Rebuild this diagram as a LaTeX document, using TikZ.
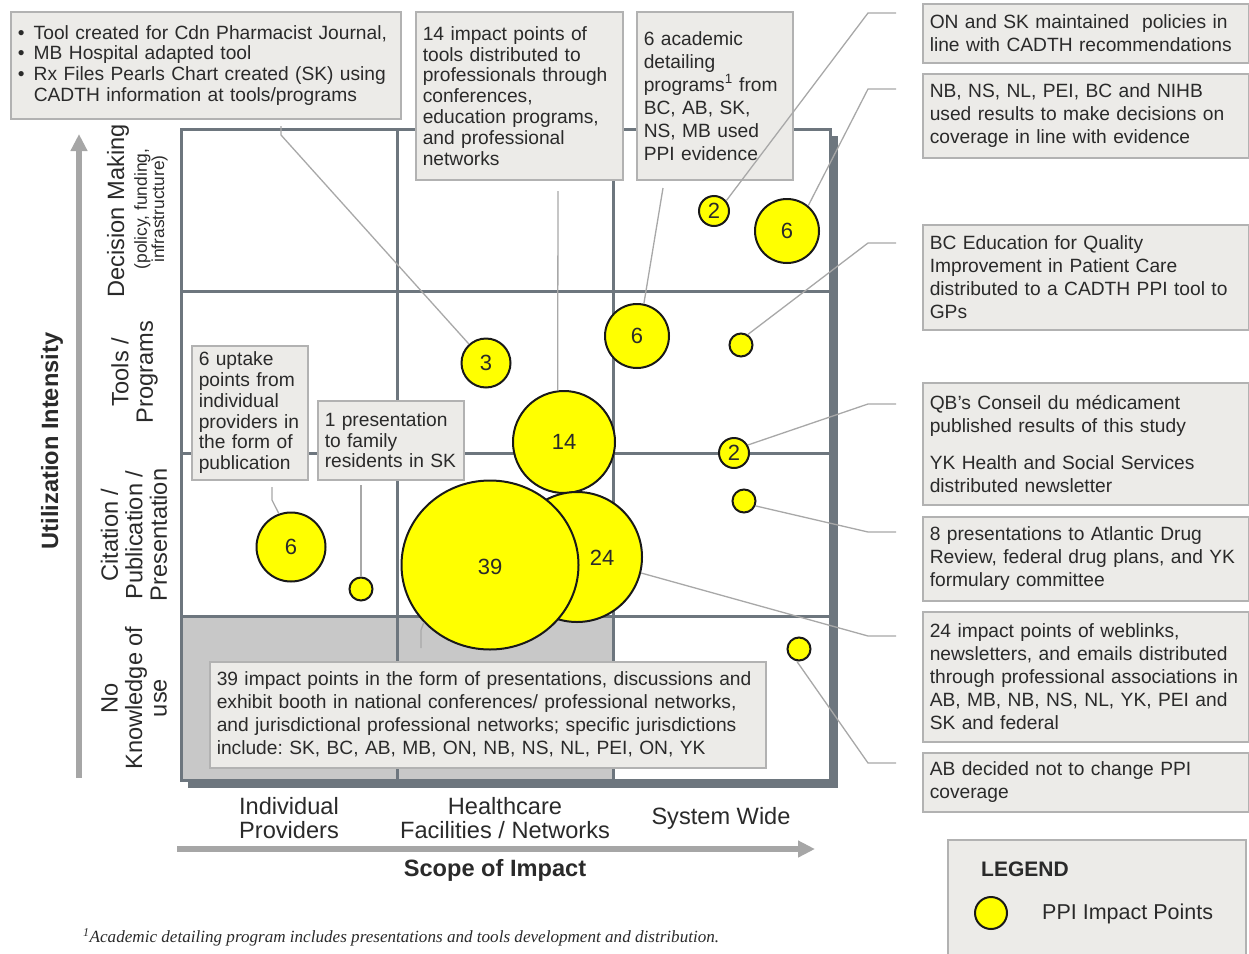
\documentclass[tikz,border=0pt]{standalone}
\usepackage{fontspec}
\setmainfont{Liberation Sans}
\newfontfamily\myserif{Liberation Serif}
\usetikzlibrary{arrows.meta,shapes.geometric}
\definecolor{gridc}{HTML}{6D767E}
\definecolor{boxfill}{HTML}{ECEBE8}
\definecolor{boxline}{HTML}{B2B2B2}
\definecolor{shadec}{HTML}{C8C8C8}
\definecolor{connc}{HTML}{A8A8A8}
\definecolor{axisc}{HTML}{A6A6A6}
\definecolor{txtc}{HTML}{2A2A2A}
\definecolor{bubc}{HTML}{FFFF00}
\newcommand{\mybodyA}{\fontsize{19.2}{20.8}\selectfont}
\newcommand{\mybodyB}{\fontsize{19.2}{23}\selectfont}
\newcommand{\myaxfont}{\fontsize{23.6}{24.5}\selectfont}
\newcommand{\myaxbf}{\bfseries\fontsize{23.6}{25}\selectfont}
\newcommand{\mysubfont}{\fontsize{17.4}{15}\selectfont}
\newcommand{\mynumfont}{\fontsize{22}{24}\selectfont}
\newcommand{\mylegfont}{\fontsize{21.5}{24}\selectfont}
\newcommand{\mylegbf}{\bfseries\fontsize{21}{24}\selectfont}
\frenchspacing
\begin{document}
\begin{tikzpicture}[x=1pt,y=-1pt,
  every node/.style={inner sep=0pt,text=txtc},
  box/.style={draw=boxline,line width=1.5pt,fill=boxfill,anchor=north west,align=left,inner xsep=7pt,inner ysep=0pt},
  bubble/.style={circle,draw=black!90,line width=2pt,fill=bubc,inner sep=0pt,font=\mynumfont},
  conn/.style={draw=connc,line width=1.3pt},
  axarrow/.style={draw=axisc,line width=5.5pt,-{Triangle[length=17pt,width=16pt]}},
  gridline/.style={draw=gridc,line width=3pt}]
\useasboundingbox (0,0) rectangle (1249,953);
% grid
\fill[gridc] (188,136) rectangle (838,788);
\fill[white] (181,129) rectangle (830,780);
\fill[shadec] (181,616) rectangle (613,780);
\draw[gridline] (397,129) -- (397,780);
\draw[gridline] (613,129) -- (613,780);
\draw[gridline] (181,291) -- (830,291);
\draw[gridline] (181,453) -- (830,453);
\draw[gridline] (181,616) -- (830,616);
\draw[gridline] (181,129) rectangle (830,780);
% axes
\coordinate (ya0) at (79,778);
\coordinate (ya1) at (79,134);
\coordinate (xa0) at (177,849);
\coordinate (xa1) at (815,849);
\draw[axarrow] (ya0) -- (ya1);
\draw[axarrow] (xa0) -- (xa1);
% bubbles
\node[bubble,minimum size=30] (b2a) at (714,211) {2};
\node[bubble,minimum size=64] (b6a) at (787,231) {6};
\node[bubble,minimum size=64] (b6m) at (637,336) {6};
\node[bubble,minimum size=23] (bd1) at (741,345) {};
\node[bubble,minimum size=49] (b3) at (486,363) {3};
\node[bubble,minimum size=102] (b14) at (564,442) {14};
\node[bubble,minimum size=30] (b2b) at (734,453) {2};
\node[bubble,minimum size=23] (bd2) at (744,501) {};
\node[bubble,minimum size=69] (b6l) at (291,547) {6};
\node[bubble,minimum size=23] (bd4) at (361,589) {};
\node[bubble,minimum size=130] (b24) at (577,557) {};
\node[bubble,ellipse,minimum width=177,minimum height=169] (b39) at (490,565) {};
\node[font=\mynumfont] (t39) at (490,567) {39};
\node[font=\mynumfont] (t24) at (602,558) {24};
\node[bubble,minimum size=23] (bd3) at (799,649) {};
% boxes
\node[box,font=\mybodyA,text width=376,minimum height=107] (bxA) at (10,11)
 {\makebox[16pt][l]{•}Tool created for Cdn Pharmacist Journal,\\
  \makebox[16pt][l]{•}MB Hospital adapted tool\\
  \makebox[16pt][l]{•}Rx Files Pearls Chart created (SK) using\\
  \hspace*{16pt}CADTH information at tools/programs};
\node[box,font=\mybodyA,text width=193,minimum height=168] (bxB) at (415,11)
 {14 impact points of\\tools distributed to\\professionals through\\conferences,\\education programs,\\and professional\\networks};
\node[box,font=\mybodyB,text width=142,minimum height=168] (bxC) at (636,11)
 {6 academic\\detailing\\programs\textsuperscript{1} from\\BC, AB, SK,\\NS, MB used\\PPI evidence};
\node[box,font=\mybodyB,text width=312,minimum height=59] (bxR1) at (922,3)
 {ON and SK maintained\ \ policies in\\line with CADTH recommendations};
\node[box,font=\mybodyB,text width=312,minimum height=84] (bxR2) at (922,73)
 {NB, NS, NL, PEI, BC and NIHB\\used results to make decisions on\\coverage in line with evidence};
\node[box,font=\mybodyB,text width=312,minimum height=105] (bxR3) at (922,224)
 {BC Education for Quality\\Improvement in Patient Care\\distributed to a CADTH PPI tool to\\GPs};
\node[box,font=\mybodyB,text width=312,minimum height=122] (bxR4) at (922,382)
 {QB’s Conseil du médicament\\published results of this study\\[14pt]YK Health and Social Services\\distributed newsletter};
\node[box,font=\mybodyB,text width=312,minimum height=84] (bxR5) at (922,516)
 {8 presentations to Atlantic Drug\\Review, federal drug plans, and YK\\formulary committee};
\node[box,font=\mybodyB,text width=312,minimum height=130] (bxR6) at (922,611)
 {24 impact points of weblinks,\\newsletters, and emails distributed\\through professional associations in\\AB, MB, NB, NS, NL, YK, PEI and\\SK and federal};
\node[box,font=\mybodyB,text width=312,minimum height=59] (bxR7) at (922,752)
 {AB decided not to change PPI\\coverage};
\node[box,font=\mybodyA,text width=102,minimum height=134] (bxU) at (191,345)
 {6 uptake\\points from\\individual\\providers in\\the form of\\publication};
\node[box,font=\mybodyA,text width=132,minimum height=79] (bxP) at (317,400)
 {1 presentation\\to family\\residents in SK};
\node[box,font=\mybodyB,text width=542,minimum height=106] (bxN) at (209,661)
 {39 impact points in the form of presentations, discussions and\\exhibit booth in national conferences/ professional networks,\\and jurisdictional professional networks; specific jurisdictions\\include: SK, BC, AB, MB, ON, NB, NS, NL, PEI, ON, YK};
% connectors
\coordinate (c1a) at (281,126); \coordinate (c1b) at (281,135);
\draw[conn] (c1a) -- (c1b) -- (b3.132);
\coordinate (c2) at (558,191);
\draw[conn] (c2) -- (b14.97);
\coordinate (c3) at (663,188);
\draw[conn] (c3) -- (b6m.78);
\coordinate (r1a) at (896,13); \coordinate (r1b) at (868,13);
\draw[conn] (r1a) -- (r1b) -- (b2a.40);
\coordinate (r2a) at (896,89); \coordinate (r2b) at (868,89);
\draw[conn] (r2a) -- (r2b) -- (b6a.50);
\coordinate (r3a) at (896,243); \coordinate (r3b) at (868,243);
\draw[conn] (r3a) -- (r3b) -- (bd1.57);
\coordinate (r4a) at (896,404); \coordinate (r4b) at (868,404);
\draw[conn] (r4a) -- (r4b) -- (b2b.30);
\coordinate (r5a) at (896,532); \coordinate (r5b) at (868,532);
\draw[conn] (r5a) -- (r5b) -- (bd2.-23);
\coordinate (r6a) at (896,636); \coordinate (r6b) at (868,636);
\draw[conn] (r6a) -- (r6b) -- (b24.-14);
\coordinate (r7a) at (896,763); \coordinate (r7b) at (868,763);
\draw[conn] (r7a) -- (r7b) -- (bd3.-100);
\coordinate (u1) at (272,487); \coordinate (u2) at (272,500);
\draw[conn] (u1) -- (u2) -- (b6l.110);
\coordinate (p1) at (361,485);
\draw[conn] (p1) -- (bd4.north);
\coordinate (n1) at (421,648); \coordinate (n2) at (421,630);
\draw[conn] (n1) -- (n2) -- (b39.221);
% legend
\node[box,minimum width=298,minimum height=125] (bxL) at (947,839) {};
\node[font=\mylegbf,anchor=west] (lg) at (981,869) {LEGEND};
\node[bubble,minimum size=32] (lb) at (991,913) {};
\node[font=\mylegfont,anchor=west] (lt) at (1042,914) {PPI Impact Points};
% axis labels
\node[rotate=90,font=\myaxbf] (yt) at (52,441) {Utilization Intensity};
\node[rotate=90,font=\myaxfont] (yl1) at (118,211) {Decision Making};
\node[rotate=90,align=center,font=\mysubfont] (yl1s) at (151,209) {(policy, funding,\\infrastructure)};
\node[rotate=90,align=center,font=\myaxfont] (yl2) at (134.5,372) {Tools /\\Programs};
\node[rotate=90,align=center,font=\myaxfont] (yl3) at (134,535) {Citation /\\Publication /\\Presentation};
\node[rotate=90,align=center,font=\myaxfont] (yl4) at (134,698) {No\\Knowledge of\\use};
\node[align=center,font=\myaxfont] (xl1) at (289,818) {Individual\\Providers};
\node[align=center,font=\myaxfont] (xl2) at (505,818) {Healthcare\\Facilities / Networks};
\node[font=\myaxfont] (xl3) at (721,818) {System Wide};
\node[font=\myaxbf] (xt) at (495,870) {Scope of Impact};
% footnote
\node[anchor=west,font=\myserif\itshape\fontsize{17.1}{19}\selectfont] (fn) at (83,937)
 {\textsuperscript{1}Academic detailing program includes presentations and tools development and distribution.};
\end{tikzpicture}
\end{document}
